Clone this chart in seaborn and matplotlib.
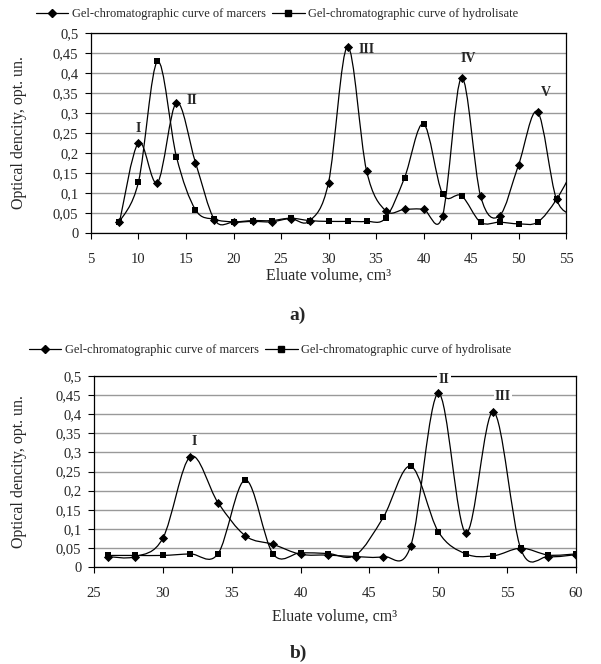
import matplotlib
matplotlib.use("Agg")
import matplotlib.pyplot as plt
import numpy as np
import pandas as pd
import seaborn as sns
from matplotlib.lines import Line2D
from matplotlib.patches import PathPatch
from matplotlib.path import Path
from matplotlib.ticker import FuncFormatter, MultipleLocator

# ---- data, chart a) ----
a_volume = [8, 10, 12, 14, 16, 18, 20, 22, 24, 26, 28, 30, 32, 34, 36,
            38, 40, 42, 44, 46, 48, 50, 52, 54, 56]
a_marcers = [0.027, 0.226, 0.126, 0.326, 0.176, 0.033, 0.027, 0.029, 0.028,
             0.036, 0.030, 0.126, 0.466, 0.156, 0.056, 0.059, 0.059, 0.043,
             0.388, 0.093, 0.043, 0.170, 0.303, 0.084, 0.045]
a_hydrol = [0.028, 0.128, 0.429, 0.190, 0.058, 0.034, 0.028, 0.031, 0.031,
            0.037, 0.031, 0.029, 0.029, 0.029, 0.037, 0.138, 0.273, 0.098,
            0.093, 0.027, 0.027, 0.023, 0.027, 0.084, 0.170]
a_peaks = ["I", "II", "III", "IV", "V"]
a_peak_x = [10, 15.6, 34.0, 44.7, 52.9]
a_peak_y = [0.262, 0.330, 0.460, 0.437, 0.350]

# ---- data, chart b) ----
b_volume = [26, 28, 30, 32, 34, 36, 38, 40, 42, 44, 46, 48, 50, 52, 54, 56, 58, 60]
b_marcers = [0.028, 0.028, 0.076, 0.289, 0.169, 0.082, 0.060, 0.034, 0.032,
             0.028, 0.028, 0.056, 0.454, 0.090, 0.406, 0.047, 0.028, 0.033]
b_hydrol = [0.031, 0.031, 0.031, 0.035, 0.035, 0.228, 0.035, 0.038, 0.036,
            0.032, 0.130, 0.264, 0.093, 0.035, 0.030, 0.050, 0.032, 0.035]
b_peaks = ["I", "II", "III"]
b_peak_x = [32.3, 50.4, 54.7]
b_peak_y = [0.328, 0.490, 0.447]

LBL_M = "Gel-chromatographic curve of marcers"
LBL_H = "Gel-chromatographic curve of hydrolisate"

sns.set_theme(style="white")
plt.rcParams["font.family"] = ["Liberation Serif", "DejaVu Serif"]


def smooth_path(x, y):
    """Excel-like smoothed line as cubic Bezier segments through the points."""
    pts = np.column_stack([x, y]).astype(float)
    n = len(pts)
    verts = [pts[0]]
    codes = [Path.MOVETO]
    for i in range(n - 1):
        p0 = pts[max(i - 1, 0)]
        p1 = pts[i]
        p2 = pts[i + 1]
        p3 = pts[min(i + 2, n - 1)]
        c1 = p1 + (p2 - p0) / 6.0
        c2 = p2 - (p3 - p1) / 6.0
        verts += [c1, c2, p2]
        codes += [Path.CURVE4] * 3
    return Path(verts, codes)


def comma_fmt(v, pos):
    s = f"{v:.2f}".rstrip("0").rstrip(".")
    return s.replace(".", ",")


def draw_panel(ax, vol, marc, hyd, xlim, peaks, px, py, boxed, ylab_x, xlab_y):
    df = pd.DataFrame({"v": vol, "m": marc, "h": hyd})
    for col in ["m", "h"]:
        patch = PathPatch(smooth_path(df["v"], df[col]), fill=False,
                          edgecolor="black", lw=0.9, zorder=2)
        ax.add_patch(patch)
    sns.scatterplot(data=df, x="v", y="m", marker="D", s=22, color="black",
                    edgecolor="black", linewidth=0, ax=ax, zorder=3)
    sns.scatterplot(data=df, x="v", y="h", marker="s", s=24, color="black",
                    edgecolor="black", linewidth=0, ax=ax, zorder=3)
    ax.set_xlim(*xlim)
    ax.set_ylim(0, 0.5)
    ax.xaxis.set_major_locator(MultipleLocator(5))
    ax.yaxis.set_major_locator(MultipleLocator(0.05))
    ax.yaxis.set_major_formatter(FuncFormatter(comma_fmt))
    ax.yaxis.grid(True, color="#999999", lw=1.0)
    ax.set_axisbelow(True)
    for sp in ax.spines.values():
        sp.set_color("black")
        sp.set_linewidth(0.9)
    ax.tick_params(axis="both", direction="out", length=4, width=0.8,
                   labelsize=10.5, color="black", bottom=True, left=True)
    ax.tick_params(axis="x", pad=10.5)
    ax.tick_params(axis="y", pad=5)
    ax.set_xlabel("Eluate volume, cm³", fontsize=11.5)
    ax.set_ylabel("Optical dencity, opt. un.", fontsize=11.5)
    ax.yaxis.set_label_coords(ylab_x, 0.5)
    ax.xaxis.set_label_coords(0.5, xlab_y)
    for lab, x, y in zip(peaks, px, py):
        kw = {}
        if boxed:
            kw["bbox"] = dict(facecolor="white", edgecolor="none", pad=1.0)
        ax.text(x, y, lab, fontsize=10, fontweight="bold", ha="center",
                va="center", zorder=6, clip_on=False, **kw)


fig = plt.figure(figsize=(6.01, 6.64), dpi=100)
ax1 = fig.add_axes([0.1514, 0.6491, 0.7904, 0.3012])
ax2 = fig.add_axes([0.1564, 0.1456, 0.8020, 0.2886])

draw_panel(ax1, a_volume, a_marcers, a_hydrol, (5, 55), a_peaks, a_peak_x,
           a_peak_y, False, -0.135, -0.175)
draw_panel(ax2, b_volume, b_marcers, b_hydrol, (25, 60), b_peaks, b_peak_x,
           b_peak_y, True, -0.139, -0.215)

handles = [Line2D([], [], color="black", lw=0.9, marker="D", markersize=4.5),
           Line2D([], [], color="black", lw=0.9, marker="s", markersize=4.5)]
fig.legend(handles, [LBL_M, LBL_H], loc="center", ncol=2, frameon=False,
           bbox_to_anchor=(277 / 601, 1 - 14 / 664), fontsize=9,
           handlelength=2.6, handletextpad=0.3, columnspacing=0.5)
fig.legend(handles, [LBL_M, LBL_H], loc="center", ncol=2, frameon=False,
           bbox_to_anchor=(270 / 601, 1 - 350 / 664), fontsize=9,
           handlelength=2.6, handletextpad=0.3, columnspacing=0.5)

fig.text(298 / 601, 1 - 315 / 664, "a)", fontsize=14, fontweight="bold",
         ha="center", va="center")
fig.text(298 / 601, 1 - 653 / 664, "b)", fontsize=14, fontweight="bold",
         ha="center", va="center")

fig.savefig("out.png", dpi=100)
